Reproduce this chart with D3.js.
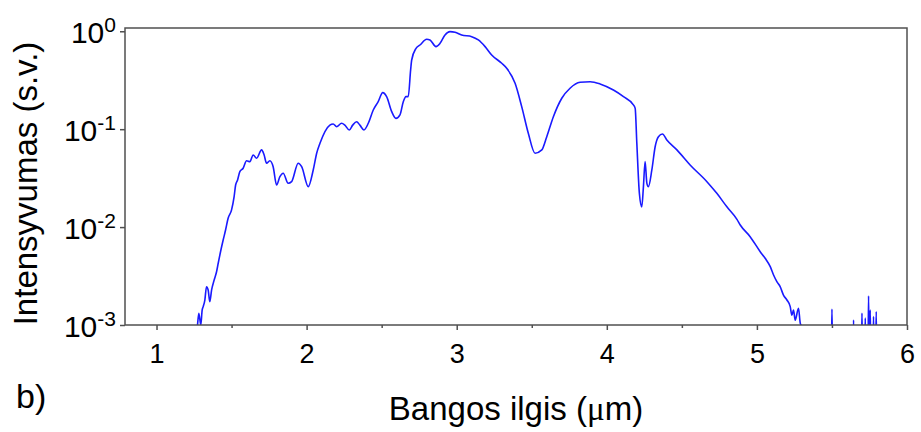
<!DOCTYPE html>
<html>
<head>
<meta charset="utf-8">
<script src="https://cdn.jsdelivr.net/npm/d3@7"></script>
<style>
  body { margin: 0; background: #fff; }
  svg { display: block; font-family: "Liberation Sans", Arial, sans-serif; }
</style>
</head>
<body>
<svg width="921" height="432"></svg>
<script>
// wavelength (um) and relative intensity
var wavelength = [
  1.25, 1.273, 1.282, 1.295, 1.304, 1.311, 1.322, 1.333, 1.344, 1.355, 1.367, 1.384,
  1.400, 1.411, 1.429, 1.444, 1.460, 1.477, 1.500, 1.517, 1.527, 1.540, 1.555, 1.577,
  1.600, 1.622, 1.644, 1.667, 1.700, 1.717, 1.733, 1.755, 1.777, 1.800, 1.822, 1.844,
  1.877, 1.900, 1.944, 1.967, 2.011, 2.044, 2.067, 2.089, 2.155, 2.177, 2.200, 2.233,
  2.255, 2.284, 2.307, 2.333, 2.355, 2.382, 2.411, 2.444, 2.477, 2.507, 2.533, 2.567,
  2.595, 2.622, 2.644, 2.662, 2.677, 2.693, 2.700, 2.729, 2.755, 2.800, 2.822, 2.862,
  2.889, 2.922, 2.955, 2.989, 3.033, 3.100, 3.144, 3.189, 3.233, 3.300, 3.333, 3.389,
  3.433, 3.477, 3.522, 3.567, 3.600, 3.644, 3.700, 3.755, 3.822, 3.889, 3.955, 4.044,
  4.111, 4.177, 4.189, 4.200, 4.217, 4.233, 4.244, 4.255, 4.267, 4.277, 4.300, 4.322,
  4.344, 4.371, 4.400, 4.467, 4.555, 4.667, 4.733, 4.800, 4.867, 4.889, 4.955, 5.022,
  5.055, 5.089, 5.111, 5.133, 5.155, 5.177, 5.200, 5.222, 5.233, 5.244, 5.255, 5.277,
  5.289, 5.300, 5.330
];
var intensity = [
  0.0005, 0.001, 0.00132, 0.001, 0.00142, 0.00154, 0.0018, 0.00246, 0.00228, 0.00173, 0.00228, 0.00288,
  0.0035, 0.00427, 0.00583, 0.00738, 0.00933, 0.0123, 0.015, 0.0205, 0.0269, 0.0303, 0.0368, 0.0399,
  0.0476, 0.0466, 0.0545, 0.0505, 0.0614, 0.0545, 0.0449, 0.0476, 0.0414, 0.0269, 0.0327, 0.0355,
  0.028, 0.0291, 0.0449, 0.0414, 0.0259, 0.0383, 0.0568, 0.0718, 0.110, 0.113, 0.106, 0.115,
  0.110, 0.0982, 0.110, 0.119, 0.110, 0.0982, 0.115, 0.157, 0.191, 0.236, 0.215, 0.151,
  0.129, 0.140, 0.191, 0.215, 0.215, 0.403, 0.509, 0.670, 0.724, 0.828, 0.815, 0.697,
  0.753, 0.916, 0.991, 0.977, 0.916, 0.881, 0.815, 0.697, 0.573, 0.471, 0.419, 0.294,
  0.170, 0.0908, 0.0568, 0.0614, 0.0838, 0.134, 0.207, 0.262, 0.301, 0.305, 0.29, 0.251,
  0.215, 0.177, 0.163, 0.0718, 0.0221, 0.0161, 0.0259, 0.0466, 0.028, 0.0259, 0.0383, 0.0662,
  0.0838, 0.0893, 0.0776, 0.0614, 0.0431, 0.0291, 0.0221, 0.0161, 0.0120, 0.0105, 0.00798, 0.00561,
  0.0048, 0.00394, 0.00324, 0.00277, 0.00246, 0.00202, 0.0018, 0.00154, 0.00126, 0.00142, 0.00112, 0.00148,
  0.00104, 0.00096, 0.0005
];
// isolated noise spikes beyond the cut-off
var spikeWavelength = [5.500, 5.644, 5.700, 5.722, 5.744, 5.755, 5.777, 5.795];
var spikeIntensity  = [0.00145, 0.00112, 0.00132, 0.00118, 0.00198, 0.00142, 0.00122, 0.00137];

var xMajor = [1, 2, 3, 4, 5, 6];
var xMinor = [1.5, 2.5, 3.5, 4.5, 5.5];
var yMajor = [1e-3, 1e-2, 1e-1, 1];
var yExp = ["-3", "-2", "-1", "0"];

var svg = d3.select("svg");
var margin = {top: 28, right: 14, bottom: 107, left: 125};
var width = +svg.attr("width") - margin.left - margin.right;
var height = +svg.attr("height") - margin.top - margin.bottom;
var g = svg.append("g").attr("transform", "translate(" + margin.left + "," + margin.top + ")");

var x = d3.scaleLinear().domain([0.79, 6]).range([0, width]);
var y = d3.scaleLog().domain([1e-3, 1.08]).range([height, 0]);

var data = wavelength.map(function(w, i) { return {w: w, v: intensity[i]}; });
spikeWavelength.forEach(function(w, i) {
  data.push({w: w - 0.004, v: 0.0005});
  data.push({w: w, v: spikeIntensity[i]});
  data.push({w: w + 0.004, v: 0.0005});
});
data.sort(function(a, b) { return a.w - b.w; });

g.append("clipPath").attr("id", "clip")
  .append("rect").attr("width", width).attr("height", height);

var line = d3.line()
  .x(function(d) { return x(d.w); })
  .y(function(d) { return y(d.v); })
  .curve(d3.curveMonotoneX);

g.append("path")
  .datum(data)
  .attr("clip-path", "url(#clip)")
  .attr("d", line)
  .attr("fill", "none")
  .attr("stroke", "#1a1aff")
  .attr("stroke-width", 1.6)
  .attr("stroke-linejoin", "round");

// frame
g.append("rect")
  .attr("width", width).attr("height", height)
  .attr("fill", "none").attr("stroke", "#505050").attr("stroke-width", 1.5);

var axisColor = "#505050";

var xAxis = g.append("g")
  .attr("transform", "translate(0," + height + ")")
  .call(d3.axisBottom(x).tickValues(xMajor).tickSize(5).tickSizeOuter(0).tickPadding(14).tickFormat(d3.format("d")));
var xMinorAxis = g.append("g")
  .attr("transform", "translate(0," + height + ")")
  .call(d3.axisBottom(x).tickValues(xMinor).tickSize(3).tickSizeOuter(0).tickFormat(""));

var yAxis = g.append("g")
  .call(d3.axisLeft(y).tickValues(yMajor).tickSize(5).tickSizeOuter(0).tickFormat(""));

[xAxis, xMinorAxis, yAxis].forEach(function(a) {
  a.select(".domain").remove();
  a.selectAll(".tick line").attr("stroke", axisColor).attr("stroke-width", 1.5);
});

xAxis.selectAll(".tick text")
  .attr("font-size", 27)
  .attr("fill", "#000")
  .attr("font-family", "Liberation Sans, Arial, sans-serif");

yAxis.selectAll(".tick").each(function(d, i) {
  var t = d3.select(this).append("text")
    .attr("x", -9)
    .attr("y", 11)
    .attr("text-anchor", "end")
    .attr("fill", "#000")
    .attr("font-family", "Liberation Sans, Arial, sans-serif")
    .attr("font-size", 30);
  t.append("tspan").text("10");
  t.append("tspan").attr("dy", -11).attr("font-size", 21).text(yExp[i]);
});

// axis titles
var xt = svg.append("text")
  .attr("x", margin.left + width / 2)
  .attr("y", 420)
  .attr("text-anchor", "middle")
  .attr("font-size", 33)
  .attr("fill", "#000");
xt.append("tspan").text("Bangos ilgis (");
xt.append("tspan").attr("font-family", "Liberation Serif, serif").text("\u03bc");
xt.append("tspan").text("m)");

svg.append("text")
  .attr("transform", "translate(37," + (margin.top + height / 2 + 7) + ") rotate(-90)")
  .attr("text-anchor", "middle")
  .attr("font-size", 33)
  .attr("fill", "#000")
  .text("Intensyvumas (s.v.)");

svg.append("text")
  .attr("x", 16)
  .attr("y", 408)
  .attr("font-size", 34)
  .attr("fill", "#000")
  .text("b)");
</script>
</body>
</html>
